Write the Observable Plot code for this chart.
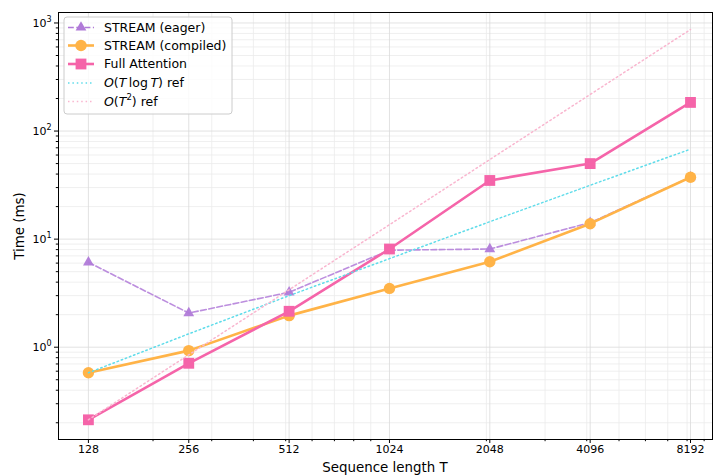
<!DOCTYPE html>
<html><head><meta charset="utf-8">
<script src="https://cdn.jsdelivr.net/npm/d3@7"></script>
<script src="https://cdn.jsdelivr.net/npm/@observablehq/plot@0.6"></script>
<style>body{margin:0;background:#fff} svg{font-family:"DejaVu Sans",sans-serif}</style>
</head><body><div id="chart"></div>
<script>
// ---- data ----
const T = [128, 256, 512, 1024, 2048, 4096, 8192];
const eager = [6.1, 2.07, 3.22, 7.9, 8.1, 14.2, 37.4];
const compiled = [0.58, 0.93, 1.96, 3.5, 6.17, 13.9, 37.4];
const fullAttn = [0.213, 0.71, 2.15, 8.1, 34.9, 50, 184];
const refTlogT = [0.58, 1.33, 3.0, 6.6, 14.5, 31.5, 68];
const refT2 = [0.213, 0.85, 3.4, 13.6, 54.5, 218, 870];

const seriesNames = ["STREAM (eager)", "STREAM (compiled)", "Full Attention", "O(T log T) ref", "O(T^2) ref"];
const xTicks = [128, 256, 512, 1024, 2048, 4096, 8192];
const xMinor = [200, 300, 400, 500, 600, 700, 800, 900, 2000, 3000, 4000, 5000, 6000, 7000, 8000, 9000];
const yMajor = [1, 10, 100, 1000];
const yMinor = [0.2, 0.3, 0.4, 0.5, 0.6, 0.7, 0.8, 0.9, 2, 3, 4, 5, 6, 7, 8, 9, 20, 30, 40, 50, 60, 70, 80, 90, 200, 300, 400, 500, 600, 700, 800, 900];
const xLabel = "Sequence length T";
const yLabel = "Time (ms)";

const C = {eager: "#b07ad8", compiled: "#ffb347", full: "#f564a9", tlogt: "#5fdcea", t2: "#f9b6cf"};

const rows = T.map((t, i) => ({T: t, eager: eager[i], compiled: compiled[i], full: fullAttn[i], tlogt: refTlogT[i], t2: refT2[i]}));

const DOT = "1.5,2.9";
const DASH = "5.8,2.5";
const svg = Plot.plot({
  width: 715, height: 476,
  marginLeft: 58, marginRight: 3, marginTop: 12, marginBottom: 37,
  style: {fontFamily: "DejaVu Sans", fontSize: "11px", background: "white", color: "#000"},
  x: {type: "log", domain: [104.1, 9536], axis: null, label: null},
  y: {type: "log", domain: [0.14, 1250], axis: null, label: null},
  marks: [
    Plot.ruleX(xMinor, {stroke: "#ebebeb", strokeWidth: 0.8}),
    Plot.ruleY(yMinor, {stroke: "#ebebeb", strokeWidth: 0.8}),
    Plot.ruleX(xTicks, {stroke: "#dadada", strokeWidth: 0.8}),
    Plot.ruleY(yMajor, {stroke: "#dadada", strokeWidth: 0.8}),
    Plot.line(rows, {x: "T", y: "eager", stroke: C.eager, strokeWidth: 1.6, strokeOpacity: 0.85, strokeDasharray: DASH}),
    Plot.dot(rows, {x: "T", y: "eager", symbol: "triangle", r: 4.0, fill: C.eager, fillOpacity: 0.95}),
    Plot.line(rows, {x: "T", y: "compiled", stroke: C.compiled, strokeWidth: 2.6}),
    Plot.dot(rows, {x: "T", y: "compiled", symbol: "circle", r: 5.7, fill: C.compiled}),
    Plot.line(rows, {x: "T", y: "full", stroke: C.full, strokeWidth: 2.6}),
    Plot.dot(rows, {x: "T", y: "full", symbol: "square", r: 6.1, fill: C.full}),
    Plot.line(rows, {x: "T", y: "tlogt", stroke: C.tlogt, strokeWidth: 1.5, strokeDasharray: DOT}),
    Plot.line(rows, {x: "T", y: "t2", stroke: C.t2, strokeWidth: 1.5, strokeDasharray: DOT}),
    Plot.frame({stroke: "#000", strokeWidth: 1}),
    Plot.axisX({ticks: xMinor, tickSize: 2.2, tickFormat: () => "", label: null}),
    Plot.axisX({ticks: xTicks, tickSize: 4, tickFormat: () => "", label: null}),
    Plot.text(xTicks, {x: d => d, text: d => String(d), frameAnchor: "bottom", dy: 13.5, fontSize: 11}),
    Plot.axisY({ticks: yMinor, tickSize: 2.2, tickFormat: () => "", label: null}),
    Plot.axisY({ticks: yMajor, tickSize: 4, tickPadding: 3, tickFormat: d => "10^" + Math.round(Math.log10(d)), fontSize: 11, label: null})
  ]
});

document.getElementById("chart").appendChild(svg);
const s = d3.select(svg);

// superscripts on the y tick labels
s.selectAll("text").each(function() {
  const t = this.textContent;
  const m = /^10\^(-?\d+)$/.exec(t);
  if (m) {
    const el = d3.select(this);
    el.text("");
    el.append("tspan").text("10");
    el.append("tspan").attr("dy", "-5px").attr("font-size", "8px").text(m[1]);
  }
});

// axis labels
s.append("text").attr("x", 385).attr("y", 467).attr("text-anchor", "middle")
  .attr("dy", "0.35em").attr("font-size", "13.4px").text(xLabel);
s.append("text").attr("transform", "translate(19,226) rotate(-90)").attr("text-anchor", "middle")
  .attr("dy", "0.35em").attr("font-size", "13.4px").text(yLabel);

// legend
const lg = s.append("g").attr("font-size", "12.5px").attr("text-anchor", "start");
lg.append("rect").attr("x", 64).attr("y", 17).attr("width", 168).attr("height", 97).attr("rx", 3)
  .attr("fill", "#fff").attr("fill-opacity", 0.8).attr("stroke", "#cccccc").attr("stroke-width", 1);
const ys = [27.5, 45.5, 64, 83, 101.5];
const items = [
  {c: C.eager, w: 1.6, dash: DASH, sym: d3.symbolTriangle, r: 4.0},
  {c: C.compiled, w: 2.6, dash: null, sym: d3.symbolCircle, r: 5.7},
  {c: C.full, w: 2.6, dash: null, sym: d3.symbolSquare, r: 6.1},
  {c: C.tlogt, w: 1.5, dash: DOT, sym: null},
  {c: C.t2, w: 1.5, dash: DOT, sym: null}
];
items.forEach((it, i) => {
  const y = ys[i];
  lg.append("line").attr("x1", 68).attr("x2", 94).attr("y1", y).attr("y2", y)
    .attr("stroke", it.c).attr("stroke-width", it.w).attr("stroke-dasharray", it.dash);
  if (it.sym) {
    lg.append("path").attr("transform", `translate(81,${y})`)
      .attr("d", d3.symbol(it.sym, it.r * it.r * Math.PI)()).attr("fill", it.c);
  }
  const tx = lg.append("text").attr("x", 104).attr("y", y + 4.4).attr("text-anchor", "start");
  const name = seriesNames[i];
  if (i === 3) {
    tx.append("tspan").attr("font-style", "italic").text("O");
    tx.append("tspan").text("(");
    tx.append("tspan").attr("font-style", "italic").text("T");
    tx.append("tspan").text("\u2009log\u2009");
    tx.append("tspan").attr("font-style", "italic").text("T");
    tx.append("tspan").text(") ref");
  } else if (i === 4) {
    tx.append("tspan").attr("font-style", "italic").text("O");
    tx.append("tspan").text("(");
    tx.append("tspan").attr("font-style", "italic").text("T");
    tx.append("tspan").attr("dy", "-5.5px").attr("font-size", "8.5px").text("2");
    tx.append("tspan").attr("dy", "5.5px").text(") ref");
  } else {
    tx.text(name);
  }
});
</script>
</body></html>
